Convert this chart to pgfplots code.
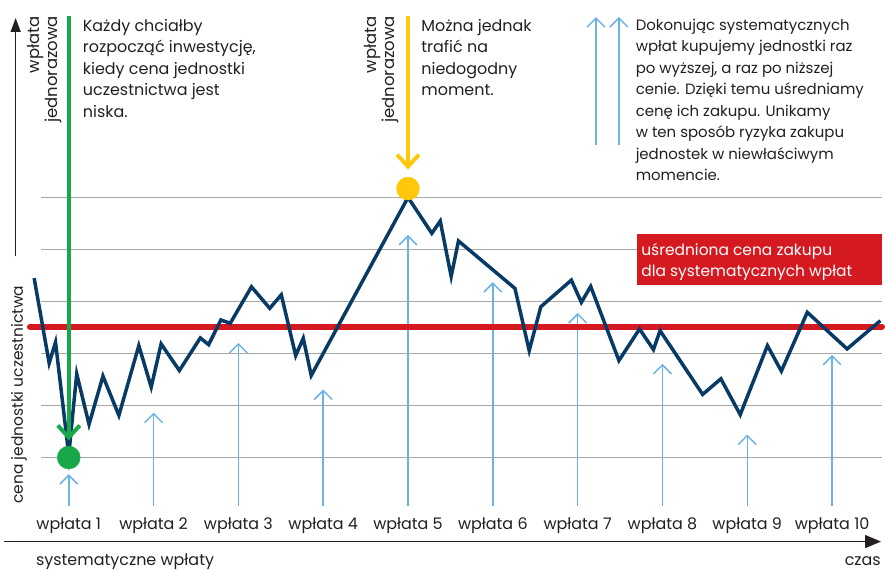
\documentclass[border=0pt]{standalone}
\usepackage{pgfplots}
\pgfplotsset{compat=1.18}
\usetikzlibrary{arrows.meta}
\usepackage{fontspec}
\setmainfont{Poppins}
\definecolor{textc}{HTML}{231F20}
\definecolor{navy}{HTML}{073B66}
\definecolor{redc}{HTML}{D51920}
\definecolor{greenc}{HTML}{18A84A}
\definecolor{yellowc}{HTML}{FFC80A}
\definecolor{lblue}{HTML}{6BB3E6}
\definecolor{gridc}{HTML}{A6A6A6}
\tikzset{barr/.style={lblue, line width=1.5pt, -{Straight Barb[length=9pt,width=18pt]}}}
\begin{document}
\begin{tikzpicture}
\begin{axis}[
 x=85.1pt, y=52.2pt,
 xmin=0.1892, xmax=10.589, ymin=-0.0153, ymax=9.793,
 axis line style={draw=none},
 major tick length=0pt,
 ytick=\empty,
 xtick={1,...,10},
 xticklabels={wpłata 1,wpłata 2,wpłata 3,wpłata 4,wpłata 5,wpłata 6,wpłata 7,wpłata 8,wpłata 9,wpłata 10},
 xticklabel style={anchor=base, yshift=-19.5pt, font=\fontsize{16}{18}\selectfont, text=textc, inner sep=0pt},
 clip=false,
]
\path (axis cs:0.1892,-1.165) rectangle (axis cs:10.589,9.793);
% grid
\pgfplotsinvokeforeach{1,...,6}{\draw[gridc, line width=1.4pt] (axis cs:0.671,#1) -- (axis cs:10.589,#1);}
% axes arrows
\draw[textc, line width=1.5pt, -{Triangle[length=14pt,width=10pt]}] (axis cs:0.3737,4.870) -- (axis cs:0.3737,9.448);
\draw[textc, line width=1.5pt, -{Triangle[length=16pt,width=13pt]}] (axis cs:0.236,-0.615) -- (axis cs:10.577,-0.615);
% blue arrows
\draw[barr] (axis cs:1,0.067) -- (axis cs:1,0.680);
\draw[barr] (axis cs:2,0.067) -- (axis cs:2,1.862);
\draw[barr] (axis cs:3,0.067) -- (axis cs:3,3.203);
\draw[barr] (axis cs:4,0.067) -- (axis cs:4,2.308);
\draw[barr] (axis cs:5,0.067) -- (axis cs:5,5.278);
\draw[barr] (axis cs:6,0.067) -- (axis cs:6,4.372);
\draw[barr] (axis cs:7,0.067) -- (axis cs:7,3.778);
\draw[barr] (axis cs:8,0.067) -- (axis cs:8,2.801);
\draw[barr] (axis cs:9,0.067) -- (axis cs:9,1.441);
\draw[barr] (axis cs:10,0.067) -- (axis cs:10,2.973);
\draw[barr] (axis cs:7.216,7.015) -- (axis cs:7.216,9.467);
\draw[barr] (axis cs:7.487,7.015) -- (axis cs:7.487,9.467);
% average price
\addplot[redc, line width=6pt, line cap=round] coordinates {(0.542,3.515) (10.589,3.515)};
% price line
\addplot[navy, line width=3.5pt, line join=miter] coordinates {
(0.592,4.448) (0.769,2.814) (0.844,3.216) (1,1.05) (1.094,2.609) (1.239,1.638)
(1.403,2.565) (1.591,1.810) (1.826,3.151) (1.972,2.354) (2.089,3.184) (2.304,2.672)
(2.551,3.299) (2.649,3.170) (2.794,3.644) (2.904,3.580) (3.154,4.282) (3.370,3.868)
(3.506,4.128) (3.676,2.960) (3.765,3.293) (3.859,2.577) (5,6.0) (5.281,5.310)
(5.380,5.546) (5.509,4.481) (5.595,5.163) (6.261,4.251) (6.429,3.056) (6.566,3.898)
(6.926,4.410) (7.044,3.983) (7.154,4.289) (7.487,2.864) (7.730,3.471) (7.894,3.075)
(7.972,3.439) (8.474,2.213) (8.689,2.513) (8.917,1.824) (9.238,3.151) (9.402,2.661)
(9.708,3.791) (10.177,3.088) (10.569,3.630)};
% one-off payments
\draw[greenc, line width=4pt, -{Straight Barb[length=12pt,width=22pt]}] (axis cs:1,9.487) -- (axis cs:1,1.33);
\draw[yellowc, line width=4pt, -{Straight Barb[length=12pt,width=22pt]}] (axis cs:5,9.487) -- (axis cs:5,6.536);
\addplot[only marks, mark=*, mark size=11.5pt, greenc] coordinates {(1,1)};
\addplot[only marks, mark=*, mark size=11.5pt, yellowc] coordinates {(5,6.17)};
% red box
\fill[redc] (axis cs:7.698,4.320) rectangle (axis cs:10.589,5.291);
\node[anchor=base west, inner sep=0pt, align=left, text=white, font=\fontsize{15.5}{21}\selectfont] at (axis cs:7.749,4.487) {uśredniona cena zakupu\\dla systematycznych wpłat};
% texts
\node[rotate=90, anchor=center, inner sep=0pt, text=textc, font=\fontsize{15.5}{18}\selectfont] at (axis cs:0.4125,2.207) {cena jednostki uczestnictwa};
\node[rotate=90, anchor=south east, inner sep=0pt, align=right, text=textc, font=\fontsize{16.5}{17.5}\selectfont] at (axis cs:0.918,9.487) {wpłata\\jednorazowa};
\node[rotate=90, anchor=south east, inner sep=0pt, align=right, text=textc, font=\fontsize{16.5}{17.5}\selectfont] at (axis cs:4.890,9.487) {wpłata\\jednorazowa};
\node[anchor=north west, inner sep=0pt, align=left, text=textc, font=\fontsize{16}{21.5}\selectfont] at (axis cs:1.1645,9.43) {Każdy chciałby\\rozpocząć inwestycję,\\kiedy cena jednostki\\uczestnictwa jest\\niska.};
\node[anchor=north west, inner sep=0pt, align=left, text=textc, font=\fontsize{16}{21.5}\selectfont] at (axis cs:5.156,9.43) {Można jednak\\trafić na\\niedogodny\\moment.};
\node[anchor=north west, inner sep=0pt, align=left, text=textc, font=\fontsize{15}{21.5}\selectfont] at (axis cs:7.683,9.43) {Dokonując systematycznych\\wpłat kupujemy jednostki raz\\po wyższej, a raz po niższej\\cenie. Dzięki temu uśredniamy\\cenę ich zakupu. Unikamy\\w ten sposób ryzyka zakupu\\jednostek w niewłaściwym\\momencie.};
\node[anchor=base west, inner sep=0pt, text=textc, font=\fontsize{16}{18}\selectfont] at (axis cs:0.612,-1.069) {systematyczne wpłaty};
\node[anchor=base east, inner sep=0pt, text=textc, font=\fontsize{16}{18}\selectfont] at (axis cs:10.577,-1.069) {czas};
\end{axis}
\end{tikzpicture}
\end{document}
